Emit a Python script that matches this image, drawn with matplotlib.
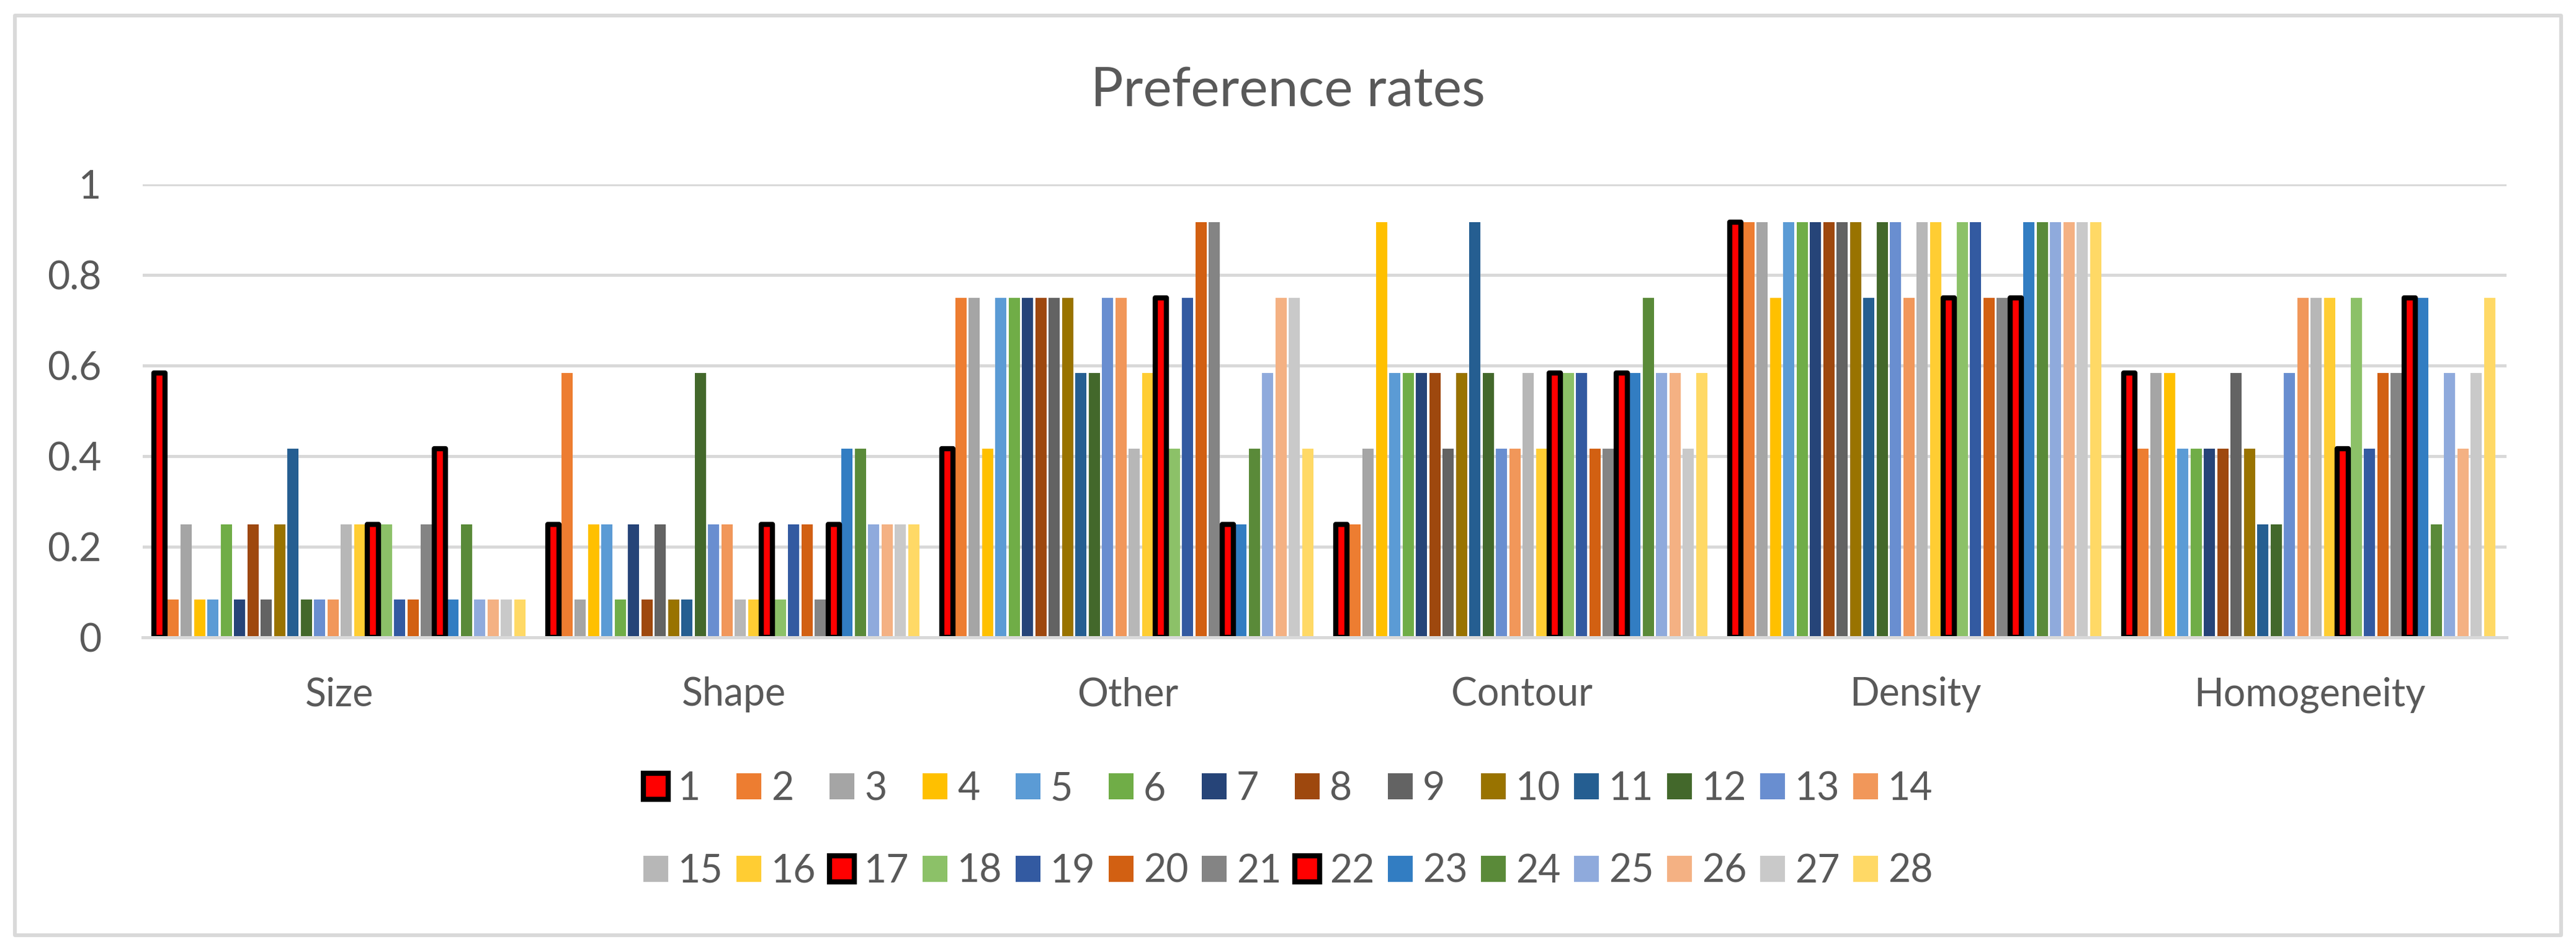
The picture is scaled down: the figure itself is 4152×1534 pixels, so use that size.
import numpy as np
import matplotlib
matplotlib.use("Agg")
import matplotlib.pyplot as plt
from matplotlib.patches import Rectangle

#%% Data

categories = ["Size", "Shape", "Other", "Contour", "Density", "Homogeneity"]
participants = [str(i) for i in range(1, 29)]

size_rates = [0.583, 0.083, 0.25, 0.083, 0.083, 0.25, 0.083, 0.25, 0.083, 0.25, 0.417, 0.083, 0.083, 0.083,
              0.25, 0.25, 0.25, 0.25, 0.083, 0.083, 0.25, 0.417, 0.083, 0.25, 0.083, 0.083, 0.083, 0.083]
shape_rates = [0.25, 0.583, 0.083, 0.25, 0.25, 0.083, 0.25, 0.083, 0.25, 0.083, 0.083, 0.583, 0.25, 0.25,
               0.083, 0.083, 0.25, 0.083, 0.25, 0.25, 0.083, 0.25, 0.417, 0.417, 0.25, 0.25, 0.25, 0.25]
other_rates = [0.417, 0.75, 0.75, 0.417, 0.75, 0.75, 0.75, 0.75, 0.75, 0.75, 0.583, 0.583, 0.75, 0.75,
               0.417, 0.583, 0.75, 0.417, 0.75, 0.917, 0.917, 0.25, 0.25, 0.417, 0.583, 0.75, 0.75, 0.417]
contour_rates = [0.25, 0.25, 0.417, 0.917, 0.583, 0.583, 0.583, 0.583, 0.417, 0.583, 0.917, 0.583, 0.417, 0.417,
                 0.583, 0.417, 0.583, 0.583, 0.583, 0.417, 0.417, 0.583, 0.583, 0.75, 0.583, 0.583, 0.417, 0.583]
density_rates = [0.917, 0.917, 0.917, 0.75, 0.917, 0.917, 0.917, 0.917, 0.917, 0.917, 0.75, 0.917, 0.917, 0.75,
                 0.917, 0.917, 0.75, 0.917, 0.917, 0.75, 0.75, 0.75, 0.917, 0.917, 0.917, 0.917, 0.917, 0.917]
homogeneity_rates = [0.583, 0.417, 0.583, 0.583, 0.417, 0.417, 0.417, 0.417, 0.583, 0.417, 0.25, 0.25, 0.583, 0.75,
                     0.75, 0.75, 0.417, 0.75, 0.417, 0.583, 0.583, 0.75, 0.75, 0.25, 0.583, 0.417, 0.583, 0.75]

# participants shown in red with a black outline
highlighted = ["1", "17", "22"]

colors = ["#FF0000", "#ED7D31", "#A5A5A5", "#FFC000", "#5B9BD5", "#70AD47", "#264478",
          "#9E480E", "#636363", "#997300", "#255E91", "#43682B", "#698ED0", "#F1975A",
          "#B7B7B7", "#FFCD33", "#FF0000", "#8CC168", "#335AA1", "#D26012", "#848484",
          "#FF0000", "#327DC2", "#5A8A39", "#8FAADC", "#F4B183", "#C9C9C9", "#FFD966"]

yticks = [0, 0.2, 0.4, 0.6, 0.8, 1]
ytick_labels = ["0", "0.2", "0.4", "0.6", "0.8", "1"]

#%% Figure

W, H = 4152, 1534
DPI = 100
text_color = "#595959"
grid_color = "#D9D9D9"

plt.rcParams['font.family'] = ['Lato', 'DejaVu Sans']

fig = plt.figure(figsize=(W / DPI, H / DPI), dpi=DPI)
ax = fig.add_axes([230 / W, 1 - 1027 / H, 3810 / W, 730 / H])

rates = np.array([size_rates, shape_rates, other_rates, contour_rates, density_rates, homogeneity_rates])
x = np.arange(len(categories))
pitch = 21.5 / 635
bar_w = 18.0 / 635

handles = []
for i, name in enumerate(participants):
    offs = (i - (len(participants) - 1) / 2) * pitch
    if name in highlighted:
        b = ax.bar(x + offs, rates[:, i], bar_w, color=colors[i], edgecolor="black",
                   linewidth=6.0, joinstyle="round", zorder=4, label=name)
    else:
        b = ax.bar(x + offs, rates[:, i], bar_w, color=colors[i], linewidth=0, zorder=3, label=name)
    handles.append(b)

ax.set_xlim(-0.5, len(categories) - 0.5)
ax.set_ylim(0, 1)
ax.set_yticks(yticks)
ax.set_yticklabels(ytick_labels)
ax.yaxis.grid(True, color=grid_color, linewidth=3.6)
ax.set_axisbelow(True)
ax.tick_params(axis="y", length=0, pad=48, labelsize=45, labelcolor=text_color)
ax.set_xticks([])
for s in ["top", "right", "left"]:
    ax.spines[s].set_visible(False)
ax.spines["bottom"].set_color(grid_color)
ax.spines["bottom"].set_linewidth(3.6)
ax.spines["bottom"].set_zorder(5)

for xi, cat in zip(x, categories):
    ax.text(xi, -0.1507, cat, transform=ax.get_xaxis_transform(), ha="center", va="baseline",
            fontsize=45, color=text_color)

fig.text(0.5, 1 - 172 / H, "Preference rates", ha="center", va="baseline", fontsize=63, color=text_color)

# legend fills column by column, so interleave to get 1..14 on the first row
ncol = 14
order = [r * ncol + c for c in range(ncol) for r in range(2)]
leg = fig.legend([handles[k] for k in order], [participants[k] for k in order],
                 loc="center", bbox_to_anchor=(0.5, 1 - 1337.5 / H), ncol=ncol, frameon=False,
                 fontsize=45, handlelength=0.64, handleheight=0.64, handletextpad=0.26,
                 columnspacing=0.34, labelspacing=1.2, borderpad=0)
for t in leg.get_texts():
    t.set_color(text_color)

# chart border
fig.patches.append(Rectangle((24 / W, 1 - 1507 / H), 4104 / W, 1482 / H, transform=fig.transFigure,
                             fill=False, edgecolor=grid_color, linewidth=4.3, joinstyle="round"))

fig.savefig("out.png", dpi=DPI, facecolor="white")
